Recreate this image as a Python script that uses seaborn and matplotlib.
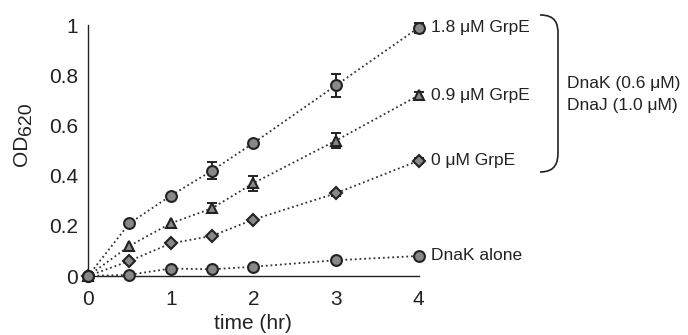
import numpy as np
import pandas as pd
import matplotlib
matplotlib.use("Agg")
import matplotlib.pyplot as plt
from matplotlib.path import Path
from matplotlib.patches import PathPatch
import seaborn as sns

# time points (hr)
time = [0, 0.5, 1, 1.5, 2, 3, 4]

# OD620 readings per condition
grpe_18 = [0, 0.21, 0.32, 0.42, 0.53, 0.76, 0.99]
err_18 = [0, 0, 0, 0.035, 0, 0.045, 0.02]
grpe_09 = [0, 0.12, 0.21, 0.27, 0.37, 0.54, 0.72]
err_09 = [0, 0, 0, 0.02, 0.03, 0.03, 0.015]
grpe_0 = [0, 0.06, 0.13, 0.16, 0.225, 0.33, 0.46]
err_0 = [0, 0, 0, 0, 0, 0.01, 0.01]
dnak = [0, 0.005, 0.03, 0.027, 0.037, 0.063, 0.08]
err_dnak = [0, 0, 0, 0, 0, 0, 0]

labels = ["1.8 \u03bcM GrpE", "0.9 \u03bcM GrpE", "0 \u03bcM GrpE", "DnaK alone"]
markers = ["o", "^", "D", "o"]

sns.set_style("white")
plt.rcParams['font.family'] = ['Liberation Sans', 'DejaVu Sans']

fig = plt.figure(figsize=(6.88, 3.35), dpi=100)
ax = fig.add_axes([0.128, 0.176, 0.4805, 0.749])

series = [(grpe_18, err_18), (grpe_09, err_09), (grpe_0, err_0), (dnak, err_dnak)]
for ii, (vals, errs) in enumerate(series):
    df = pd.DataFrame({"time": time, "od": vals})
    sns.lineplot(data=df, x="time", y="od", ax=ax, color="#333333",
                 linestyle=(0, (1, 1.6)), linewidth=1.3, marker=markers[ii],
                 markersize=7.8 if markers[ii] != "D" else 6.5,
                 markerfacecolor="#888888", markeredgecolor="#222222",
                 markeredgewidth=1.5, clip_on=False, zorder=3)
    e = np.array(errs)
    idx = e > 0
    ax.errorbar(np.array(time)[idx], np.array(vals)[idx], yerr=e[idx],
                fmt="none", ecolor="#222222", elinewidth=1.4, capsize=3.5,
                capthick=1.4, zorder=2, clip_on=False)
    ax.annotate(labels[ii], xy=(4, vals[-1]), xytext=(9, 0),
                textcoords="offset points", va="center", ha="left",
                fontsize=12.5, color="#222222", annotation_clip=False)

ax.set_xlim(0, 4)
ax.set_ylim(0, 1)
ax.set_xticks([0, 1, 2, 3, 4])
ax.set_yticks([0, 0.2, 0.4, 0.6, 0.8, 1])
ax.set_yticklabels(["0", "0.2", "0.4", "0.6", "0.8", "1"])
ax.tick_params(direction="in", length=5, width=1, labelsize=15,
               colors="#222222", pad=7)
ax.tick_params(axis="x", pad=10)
for s in ["top", "right"]:
    ax.spines[s].set_visible(False)
for s in ["left", "bottom"]:
    ax.spines[s].set_color("#222222")
    ax.spines[s].set_linewidth(1)
ax.set_xlabel("time (hr)", fontsize=15, color="#222222", labelpad=4)
ax.set_ylabel("")

# y label OD with subscript 620
fig.text(0.031, 0.55, "OD", rotation=90, fontsize=15, color="#222222",
         ha="center", va="center")
fig.text(0.038, 0.645, "620", rotation=90, fontsize=14, color="#222222",
         ha="center", va="center")

# bracket on the right
W, H = 688.0, 335.0
def fx(px):
    return px / W
def fy(py):
    return 1 - py / H
verts = [(fx(540), fy(15)), (fx(556), fy(15)), (fx(558), fy(24)), (fx(558), fy(34)),
         (fx(558), fy(152)),
         (fx(558), fy(162)), (fx(556), fy(172)), (fx(540), fy(172))]
codes = [Path.MOVETO, Path.CURVE4, Path.CURVE4, Path.CURVE4, Path.LINETO,
         Path.CURVE4, Path.CURVE4, Path.CURVE4]
fig.patches.append(PathPatch(Path(verts, codes), transform=fig.transFigure,
                             fill=False, edgecolor="#222222", linewidth=1.2))
fig.text(fx(567), fy(84), "DnaK (0.6 \u03bcM)", fontsize=12.5, color="#222222",
         ha="left", va="center")
fig.text(fx(567), fy(106), "DnaJ (1.0 \u03bcM)", fontsize=12.5, color="#222222",
         ha="left", va="center")

fig.savefig("out.png", dpi=100)
